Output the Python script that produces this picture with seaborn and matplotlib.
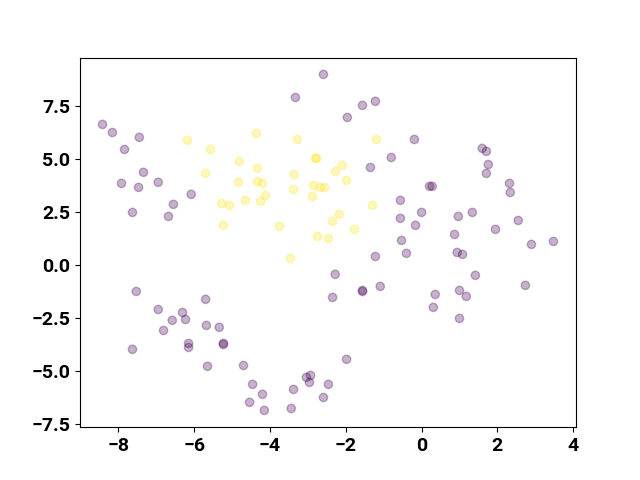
import numpy as np
import pandas as pd
import matplotlib
matplotlib.use('Agg')
import matplotlib.pyplot as plt
import seaborn as sns

# group 0 (purple)
x0 = [-8.42, -8.16, -7.45, -7.84, -7.34, -7.92, -7.47, -6.95, -6.08, -6.55,
      -7.63, -6.68, -7.53, -6.95, -6.31, -6.58, -6.23, -6.81, -5.70, -5.68,
      -5.34, -6.15, -6.15, -5.23, -5.23, -7.63, -5.65, -4.70, -4.46, -4.54,
      -4.20, -4.15, -3.44, -3.38, -3.04, -2.93, -2.96, -2.59, -2.46, -1.98,
      -2.35, -2.28, -1.56, -1.56, -1.09, -1.22, -2.59, -3.33, -1.56, -1.22,
      -1.96, -0.80, -1.35, -0.19, -0.56, -0.56, -0.53, -0.40, -0.16, 0.00,
      0.21, 0.28, 1.60, 1.71, 1.76, 1.71, 2.32, 2.34, 0.97, 1.34,
      0.87, 1.95, 2.55, 2.90, 3.48, 0.94, 1.08, 1.42, 0.36, 1.00,
      1.18, 2.74, 0.31, 1.00]
y0 = [6.65, 6.27, 6.04, 5.47, 4.39, 3.87, 3.68, 3.92, 3.35, 2.88,
      2.50, 2.31, -1.23, -2.08, -2.22, -2.59, -2.55, -3.07, -1.60, -2.83,
      -2.92, -3.68, -3.87, -3.68, -3.73, -3.96, -4.76, -4.72, -5.61, -6.46,
      -6.08, -6.84, -6.75, -5.85, -5.28, -5.19, -5.52, -6.23, -5.61, -4.43,
      -1.51, -0.42, -1.23, -1.18, -0.99, 0.42, 9.01, 7.92, 7.55, 7.74,
      6.98, 5.09, 4.62, 5.94, 3.07, 2.22, 1.18, 0.57, 1.89, 2.50,
      3.73, 3.73, 5.52, 5.38, 4.76, 4.34, 3.87, 3.44, 2.31, 2.50,
      1.46, 1.70, 2.12, 0.99, 1.13, 0.61, 0.52, -0.47, -1.37, -1.18,
      -1.46, -0.94, -1.98, -2.50]

# group 1 (yellow)
x1 = [-6.18, -5.57, -4.81, -5.70, -4.83, -5.28, -5.07, -4.65, -5.23, -4.36,
      -3.28, -1.19, -2.80, -2.77, -4.33, -2.09, -2.27, -3.36, -4.33, -4.20,
      -1.98, -3.38, -2.85, -2.67, -2.56, -4.12, -4.25, -2.88, -1.30, -2.17,
      -2.35, -3.75, -1.77, -2.75, -2.46, -3.46]
y1 = [5.90, 5.47, 4.91, 4.34, 3.92, 2.92, 2.83, 3.07, 1.89, 6.23,
      5.94, 5.94, 5.05, 5.05, 4.58, 4.72, 4.43, 4.29, 3.96, 3.87,
      4.01, 3.58, 3.77, 3.68, 3.68, 3.30, 3.02, 3.25, 2.83, 2.41,
      2.08, 1.84, 1.70, 1.37, 1.27, 0.33]

df = pd.DataFrame({
    'x': x0 + x1,
    'y': y0 + y1,
    'label': [0] * len(x0) + [1] * len(x1),
})

plt.rcParams['font.family'] = ['Roboto', 'DejaVu Sans']
plt.rcParams['font.weight'] = 'bold'
plt.rcParams['font.size'] = 14

fig, ax = plt.subplots(figsize=(6.4, 4.8), dpi=100)
sns.scatterplot(data=df, x='x', y='y', hue='label',
                palette=['#440154', '#fde725'], alpha=0.3, s=36,
                edgecolor='face', linewidth=1.0, legend=False, ax=ax)
ax.set_xlabel('')
ax.set_ylabel('')
ax.set_xticks([-8, -6, -4, -2, 0, 2, 4])
ax.set_yticks([-7.5, -5.0, -2.5, 0.0, 2.5, 5.0, 7.5])
for lab in ax.get_xticklabels() + ax.get_yticklabels():
    lab.set_fontweight('bold')

plt.savefig('out.png')
